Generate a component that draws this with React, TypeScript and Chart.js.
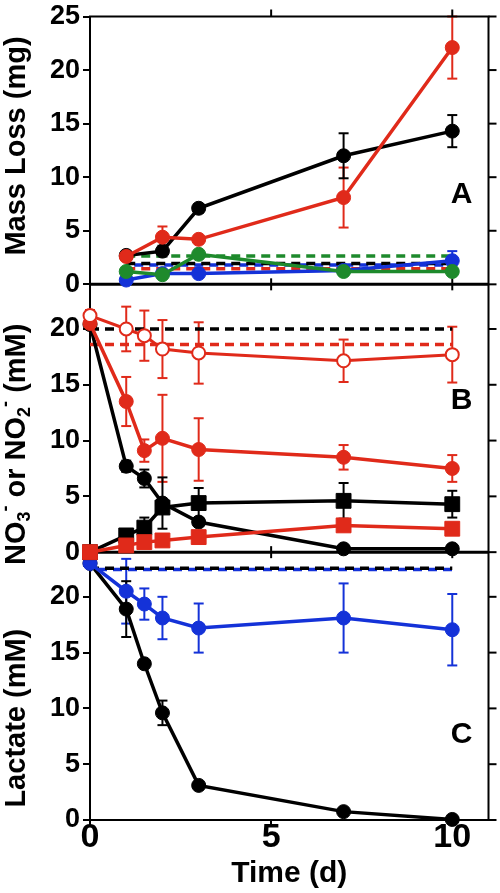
import React, { useEffect, useRef } from "react";
import { Chart, registerables } from "chart.js";
Chart.register(...registerables);

// ---------- data ----------
const daysA = [1, 2, 3, 7, 10];
const days = [0, 1, 1.5, 2, 3, 7, 10];
const ctrlDaysA = [1, 10];
const ctrlDays = [0, 10];

// Panel A: mass loss (mg)
const massRed = [2.6, 4.4, 4.2, 8.1, 22.1];
const massRedErr = [0.3, 1.0, 0.3, 2.8, 2.9];
const massBlack = [2.7, 3.1, 7.1, 12.0, 14.3];
const massBlackErr = [0.3, 0.5, 0.4, 2.1, 1.5];
const massGreen = [1.2, 0.9, 2.8, 1.2, 1.2];
const massGreenErr = [0.3, 0.2, 0.3, 0.3, 0.3];
const massBlue = [0.4, 1.0, 1.0, 1.3, 2.2];
const massBlueErr = [0.2, 0.2, 0.2, 0.3, 0.9];
const massCtrlGreen = [2.65, 2.65];
const massCtrlBlack = [1.95, 1.95];
const massCtrlBlue = [1.8, 1.8];
const massCtrlRed = [1.45, 1.45];

// Panel B: nitrate / nitrite (mM)
const no3Open = [21.2, 20.0, 19.4, 18.2, 17.85, 17.15, 17.7];
const no3OpenErr = [0.5, 2.0, 2.25, 2.6, 2.75, 1.9, 2.5];
const no3Red = [20.5, 13.5, 9.1, 10.2, 9.2, 8.5, 7.5];
const no3RedErr = [0.3, 2.2, 1.0, 3.9, 2.8, 1.1, 1.2];
const no3Black = [20.4, 7.7, 6.6, 4.4, 2.7, 0.3, 0.3];
const no3BlackErr = [0.3, 0.5, 0.8, 2.3, 0.3, 0.2, 0.2];
const no2Black = [0, 1.5, 2.2, 4.0, 4.4, 4.6, 4.3];
const no2BlackErr = [0, 0.3, 0.9, 0.4, 1.35, 1.6, 1.2];
const no2Red = [0, 0.6, 0.9, 1.05, 1.35, 2.4, 2.1];
const no2RedErr = [0, 0.2, 0.2, 0.2, 0.2, 0.3, 0.3];
const no3CtrlBlack = [20.0, 20.0];
const no3CtrlRed = [18.6, 18.6];

// Panel C: lactate (mM)
const lacBlue = [23.0, 20.5, 19.35, 18.1, 17.2, 18.1, 17.05];
const lacBlueErr = [0.2, 2.9, 1.4, 1.9, 2.2, 3.1, 3.2];
const lacBlack = [23.0, 18.9, 14.0, 9.6, 3.1, 0.75, 0.05];
const lacBlackErr = [0.2, 2.5, 0.3, 1.1, 0.3, 0.2, 0.1];
const lacCtrlBlue = [22.45, 22.45];
const lacCtrlBlack = [22.55, 22.55];

const xTicks = [0, 5, 10];
const yTicksA = [0, 5, 10, 15, 20, 25];
const yTicksBC = [0, 5, 10, 15, 20];

// ---------- styles ----------
const RED = "#e02a1a";
const BLACK = "#000000";
const GREEN = "#1e8a2c";
const BLUE = "#1432d8";
const FONT = "'Liberation Sans', Arial, Helvetica, sans-serif";

const pts = (xs: number[], ys: number[]) => xs.map((x, i) => ({ x, y: ys[i] }));

function series(label: string, xs: number[], ys: number[], errs: number[], color: string, yAxisID: string, extra: any = {}) {
  return {
    label,
    data: pts(xs, ys),
    errors: errs,
    borderColor: color,
    backgroundColor: color,
    pointBackgroundColor: color,
    pointBorderColor: color,
    pointBorderWidth: 1,
    pointRadius: 7,
    borderWidth: 3.5,
    tension: 0,
    yAxisID,
    xAxisID: "x",
    clip: false as any,
    ...extra,
  };
}

function control(label: string, xs: number[], ys: number[], color: string, yAxisID: string, offset = 0) {
  return {
    label,
    data: pts(xs, ys),
    borderColor: color,
    backgroundColor: color,
    borderWidth: 3.5,
    borderDash: [9, 6],
    borderDashOffset: offset,
    pointRadius: 0,
    tension: 0,
    yAxisID,
    xAxisID: "x",
    clip: false as any,
  };
}

const SQUARE = { pointStyle: "rect", pointRadius: 10.5 };
const OPEN = { pointBackgroundColor: "#ffffff", pointBorderWidth: 2, pointRadius: 6.5, borderWidth: 3 };

const datasets: any[] = [
  // Panel A
  series("Mass loss red", daysA, massRed, massRedErr, RED, "yA"),
  series("Mass loss black", daysA, massBlack, massBlackErr, BLACK, "yA"),
  series("Mass loss green", daysA, massGreen, massGreenErr, GREEN, "yA"),
  series("Mass loss blue", daysA, massBlue, massBlueErr, BLUE, "yA"),
  control("Control green", ctrlDaysA, massCtrlGreen, GREEN, "yA"),
  control("Control black", ctrlDaysA, massCtrlBlack, BLACK, "yA"),
  control("Control blue", ctrlDaysA, massCtrlBlue, BLUE, "yA", 7),
  control("Control red", ctrlDaysA, massCtrlRed, RED, "yA"),
  // Panel B
  series("NO3- open", days, no3Open, no3OpenErr, RED, "yB", OPEN),
  series("NO3- red", days, no3Red, no3RedErr, RED, "yB"),
  series("NO2- red", days, no2Red, no2RedErr, RED, "yB", SQUARE),
  series("NO3- black", days, no3Black, no3BlackErr, BLACK, "yB"),
  series("NO2- black", days, no2Black, no2BlackErr, BLACK, "yB", SQUARE),
  control("NO3- control black", ctrlDays, no3CtrlBlack, BLACK, "yB"),
  control("NO3- control red", ctrlDays, no3CtrlRed, RED, "yB"),
  // Panel C
  series("Lactate blue", days, lacBlue, lacBlueErr, BLUE, "yC"),
  series("Lactate black", days, lacBlack, lacBlackErr, BLACK, "yC"),
  control("Lactate control black", ctrlDays, lacCtrlBlack, BLACK, "yC"),
  control("Lactate control blue", ctrlDays, lacCtrlBlue, BLUE, "yC", 7),
];

function yScale(min: number, max: number, ticks: number[]) {
  return {
    type: "linear",
    position: "left",
    stack: "panels",
    stackWeight: 1,
    min,
    max,
    afterBuildTicks: (s: any) => {
      s.ticks = ticks.map((v) => ({ value: v }));
    },
    afterFit: (s: any) => {
      s.width = 90;
    },
    grid: { drawOnChartArea: false, drawTicks: true, tickLength: 7, color: BLACK, lineWidth: 2 },
    border: { display: true, color: BLACK, width: 2 },
    ticks: {
      color: BLACK,
      autoSkip: false,
      font: { family: FONT, size: 27, weight: "bold", lineHeight: 1 },
      padding: 3,
    },
  };
}

function line(ctx: CanvasRenderingContext2D, x1: number, y1: number, x2: number, y2: number) {
  ctx.beginPath();
  ctx.moveTo(x1, y1);
  ctx.lineTo(x2, y2);
  ctx.stroke();
}

const titleBParts = [
  { t: "NO", k: "main" },
  { t: "3", k: "sub" },
  { t: "-", k: "sup" },
  { t: " or NO", k: "main" },
  { t: "2", k: "sub" },
  { t: "-", k: "sup" },
  { t: " (mM)", k: "main" },
];

const decorPlugin = {
  id: "decor",
  beforeDatasetsDraw(chart: any) {
    const { ctx, chartArea, scales } = chart;
    const xs = scales.x;
    ctx.save();
    // error bars
    chart.data.datasets.forEach((ds: any) => {
      const errs: number[] | undefined = ds.errors;
      if (!errs) return;
      const ys = scales[ds.yAxisID];
      ctx.strokeStyle = ds.borderColor;
      ctx.lineWidth = 2;
      ds.data.forEach((p: any, j: number) => {
        const e = errs[j];
        if (!e) return;
        const px = xs.getPixelForValue(p.x);
        const t = ys.getPixelForValue(p.y + e);
        const b = ys.getPixelForValue(p.y - e);
        line(ctx, px, t, px, b);
        line(ctx, px - 5, t, px + 5, t);
        line(ctx, px - 5, b, px + 5, b);
      });
    });
    // frame
    ctx.strokeStyle = BLACK;
    ctx.lineWidth = 2;
    line(ctx, chartArea.left - 1, chartArea.top, chartArea.right + 1, chartArea.top);
    line(ctx, chartArea.right, chartArea.top, chartArea.right, chartArea.bottom);
    ctx.lineWidth = 3;
    const bounds = [scales.yA.bottom, scales.yB.bottom];
    bounds.forEach((b: number) => line(ctx, chartArea.left, b, chartArea.right, b));
    // right ticks
    ctx.lineWidth = 2;
    ["yA", "yB", "yC"].forEach((id) => {
      const s = scales[id];
      s.ticks.forEach((tk: any) => {
        const py = s.getPixelForValue(tk.value);
        line(ctx, chartArea.right, py, chartArea.right + 8, py);
      });
    });
    // top and boundary x ticks
    [5, 10].forEach((v) => {
      const px = xs.getPixelForValue(v);
      line(ctx, px, chartArea.top - 7, px, chartArea.top);
      bounds.forEach((b: number) => line(ctx, px, b - 6, px, b + 6));
    });
    ctx.restore();
  },
  afterDraw(chart: any) {
    const { ctx, chartArea, scales } = chart;
    ctx.save();
    ctx.fillStyle = BLACK;
    // panel letters
    ctx.font = `bold 30px ${FONT}`;
    ctx.textAlign = "center";
    ctx.textBaseline = "middle";
    const lx = chartArea.right - 27;
    ctx.fillText("A", lx, scales.yA.top + 178);
    ctx.fillText("B", lx, scales.yB.top + 116);
    ctx.fillText("C", lx, scales.yC.top + 183);
    // y titles
    const tx = 25;
    const drawRot = (cy: number, fn: () => void) => {
      ctx.save();
      ctx.translate(tx, cy);
      ctx.rotate(-Math.PI / 2);
      ctx.textBaseline = "alphabetic";
      fn();
      ctx.restore();
    };
    drawRot(scales.yA.top + 129.5, () => {
      ctx.font = `bold 29px ${FONT}`;
      ctx.textAlign = "center";
      ctx.fillText("Mass Loss (mg)", 0, 0);
    });
    drawRot(scales.yC.top + 166, () => {
      ctx.font = `bold 29px ${FONT}`;
      ctx.textAlign = "center";
      ctx.fillText("Lactate (mM)", 0, 0);
    });
    drawRot(scales.yB.top + 160, () => {
      ctx.textAlign = "left";
      const fontFor = (k: string) => (k === "main" ? `bold 29px ${FONT}` : `bold 18px ${FONT}`);
      let total = 0;
      titleBParts.forEach((p) => {
        ctx.font = fontFor(p.k);
        total += ctx.measureText(p.t).width;
      });
      let x = -total / 2;
      titleBParts.forEach((p) => {
        ctx.font = fontFor(p.k);
        const dy = p.k === "sub" ? 5 : p.k === "sup" ? -14 : 0;
        ctx.fillText(p.t, x, dy);
        x += ctx.measureText(p.t).width;
      });
    });
    ctx.restore();
  },
};

const config: any = {
  type: "line",
  data: { datasets },
  options: {
    animation: false,
    responsive: false,
    events: [],
    layout: { padding: { top: 13, right: 7, bottom: 0, left: 0 } },
    plugins: { legend: { display: false }, tooltip: { enabled: false } },
    scales: {
      x: {
        type: "linear",
        position: "bottom",
        min: 0,
        max: 11,
        afterBuildTicks: (s: any) => {
          s.ticks = xTicks.map((v) => ({ value: v }));
        },
        afterFit: (s: any) => {
          s.height = 73;
        },
        grid: { drawOnChartArea: false, drawTicks: true, tickLength: 6, color: BLACK, lineWidth: 2 },
        border: { display: true, color: BLACK, width: 2 },
        ticks: {
          color: BLACK,
          maxRotation: 0,
          autoSkip: false,
          padding: 0,
          font: { family: FONT, size: 34, weight: "bold", lineHeight: 0.68 },
        },
        title: {
          display: true,
          text: "Time (d)",
          color: BLACK,
          font: { family: FONT, size: 30, weight: "bold", lineHeight: 1 },
          padding: { top: 0, bottom: 4 },
        },
      },
      yC: yScale(0, 24, yTicksBC),
      yB: yScale(0, 24, yTicksBC),
      yA: yScale(0, 25, yTicksA),
    },
  },
  plugins: [decorPlugin],
};

export default function App() {
  const ref = useRef<HTMLCanvasElement>(null);
  useEffect(() => {
    if (!ref.current) return;
    const chart = new Chart(ref.current, config);
    return () => chart.destroy();
  }, []);
  return (
    <div style={{ position: "absolute", left: 0, top: 0, width: 500, height: 893, background: "#ffffff" }}>
      <canvas ref={ref} width={500} height={893} style={{ display: "block", width: 500, height: 893 }} />
    </div>
  );
}
